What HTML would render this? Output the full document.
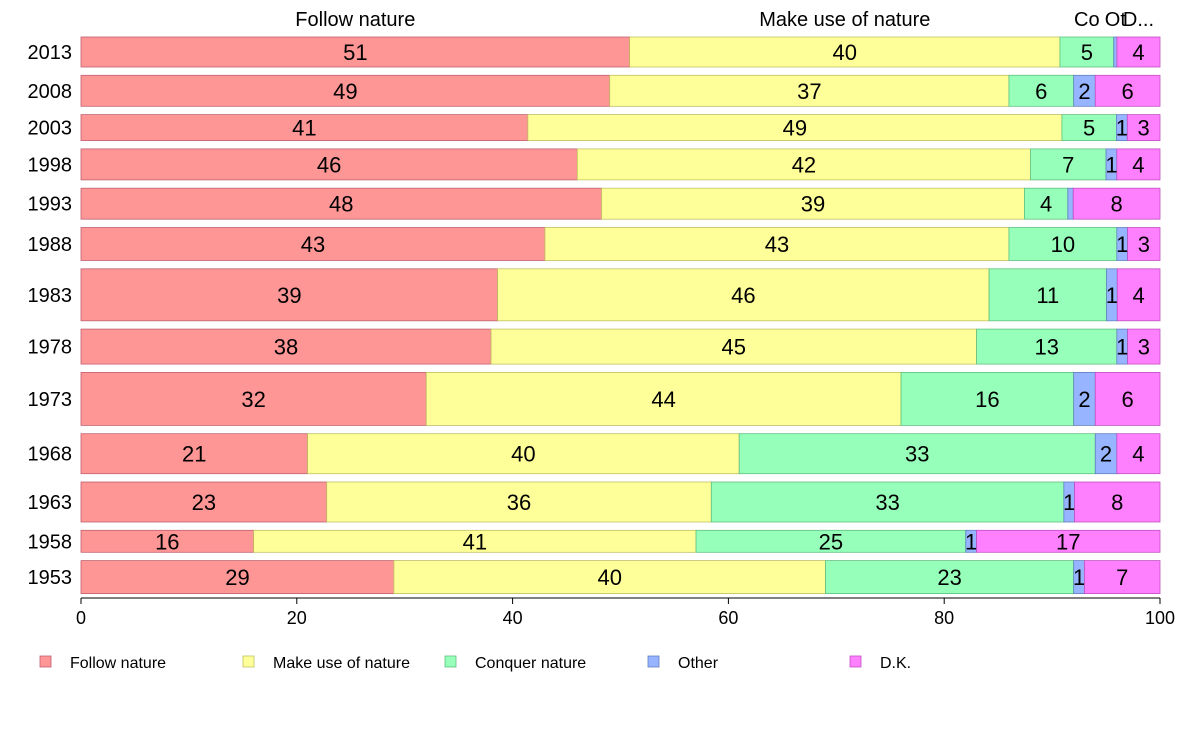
<!DOCTYPE html>
<html><head><meta charset="utf-8"><style>
body{margin:0;background:#fff;font-family:"Liberation Sans",sans-serif}
</style></head><body>
<svg id="chart" width="1188" height="736" xmlns="http://www.w3.org/2000/svg" font-family="Liberation Sans, sans-serif"></svg>
<script>
const years=["2013","2008","2003","1998","1993","1988","1983","1978","1973","1968","1963","1958","1953"];
const followNature=[51,49,41,46,48,43,39,38,32,21,23,16,29];
const makeUse=[40,37,49,42,39,43,46,45,44,40,36,41,40];
const conquer=[5,6,5,7,4,10,11,13,16,33,33,25,23];
const other=[0.3,2,1,1,0.5,1,1,1,2,2,1,1,1];
const dk=[4,6,3,4,8,3,4,3,6,4,8,17,7];
const sampleWeight=[30,31,26,31,31,33,52,35,53,40,40,22,33];
const seriesNames=["Follow nature","Make use of nature","Conquer nature","Other","D.K."];
const xTicks=[0,20,40,60,80,100];
const series=[followNature,makeUse,conquer,other,dk];
const fills=["#FF9696","#FFFF99","#96FFB9","#96B4FF","#FF80FF"];
const strokes=["#C06070","#C0C060","#60C080","#6080C0","#C050C0"];
const svg=document.getElementById('chart');
const NS="http://www.w3.org/2000/svg";
const x0=81,x1=1160,yTop=37,gap=8.3;
const xs=v=>x0+(x1-x0)*v/100;
function mk(tag,attrs,text){const e=document.createElementNS(NS,tag);for(const k in attrs)e.setAttribute(k,attrs[k]);if(text!==undefined)e.textContent=text;svg.appendChild(e);return e;}
let y=yTop;
years.forEach((yr,i)=>{
  const h=sampleWeight[i];
  const tot=series.reduce((s,a)=>s+a[i],0);
  let acc=0;
  const lab=mk('text',{x:72,y:y+h/2+7,'text-anchor':'end','font-size':20,fill:'#000'},yr);
  
  
  series.forEach((s,j)=>{
    const a=xs(acc/tot*100),b=xs((acc+s[i])/tot*100);
    const r=mk('rect',{x:a,y:y,width:b-a,height:h,fill:fills[j],stroke:strokes[j],'stroke-width':0.8});
    
    
    if(s[i]>=1){
      const t=mk('text',{x:(a+b)/2,y:y+h/2+8,'text-anchor':'middle','font-size':22,fill:'#000'},String(Math.round(s[i])));
      
      
    }
    if(i===0){
      const cx=(a+b)/2;
      let name=seriesNames[j];
      if(b-a<100) name=name.slice(0,2);
      if(j===4) name="D...";
      const t=mk('text',{x:cx,y:26,'text-anchor':'middle','font-size':20,fill:'#000'},name);
      
      
    }
    acc+=s[i];
  });
  y+=h+gap;
});
const ax=mk('line',{x1:x0,x2:x1,y1:598,y2:598,stroke:'#000','stroke-width':1});


xTicks.forEach(v=>{
  const l=mk('line',{x1:xs(v),x2:xs(v),y1:598,y2:604,stroke:'#000'});
  
  
  const t=mk('text',{x:xs(v),y:624,'text-anchor':'middle','font-size':18,fill:'#000'},String(v));
  
  
});
const legX=[40,243,445,648,850];
seriesNames.forEach((n,j)=>{
  const r=mk('rect',{x:legX[j],y:656,width:11,height:11,fill:fills[j],stroke:strokes[j],'stroke-width':0.8});
  
  
  const t=mk('text',{x:legX[j]+30,y:668,'font-size':16,fill:'#000'},n);
  
  
});
</script>
</body></html>
